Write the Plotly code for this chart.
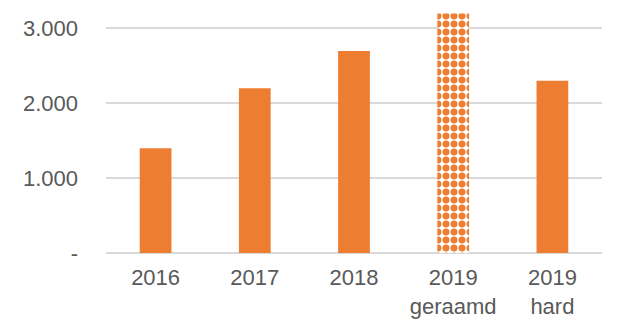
import plotly.graph_objects as go

categories = ["2016", "2017", "2018", "2019<br>geraamd", "2019<br>hard"]
values = [1400, 2200, 2700, 3200, 2300]
estimated = [False, False, False, True, False]

tick_vals = [0, 1000, 2000, 3000]
tick_text = ["-", "1.000", "2.000", "3.000"]

orange = "#ED7D31"

solid_y = [v if not e else None for v, e in zip(values, estimated)]
est_y = [v if e else None for v, e in zip(values, estimated)]

fig = go.Figure()
fig.add_trace(go.Bar(
    x=categories, y=solid_y,
    marker=dict(color=orange, line=dict(width=0)),
    width=0.32,
))
fig.add_trace(go.Bar(
    x=categories, y=est_y,
    marker=dict(
        color="white",
        line=dict(width=0),
        pattern=dict(
            shape=".",
            fgcolor=orange,
            fgopacity=1,
            bgcolor="white",
            size=8,
            solidity=0.6,
            fillmode="overlay",
        ),
    ),
    width=0.32,
))

fig.update_layout(
    width=640, height=330,
    margin=dict(l=106, r=38, t=12, b=77),
    paper_bgcolor="white", plot_bgcolor="white",
    font=dict(family="Liberation Sans, Arial, sans-serif", size=22, color="#595959"),
    showlegend=False,
    barmode="overlay",
)
fig.update_xaxes(showgrid=False, showline=False, ticks="", tickfont=dict(size=22),
                 ticklabelstandoff=9)
fig.update_yaxes(
    range=[0, 3220],
    tickvals=tick_vals, ticktext=tick_text,
    showgrid=True, gridcolor="#D9D9D9", gridwidth=1.5,
    zeroline=True, zerolinecolor="#D9D9D9", zerolinewidth=1.5,
    showline=False, ticks="", ticklabelstandoff=27,
)

fig.write_html("out.html")
